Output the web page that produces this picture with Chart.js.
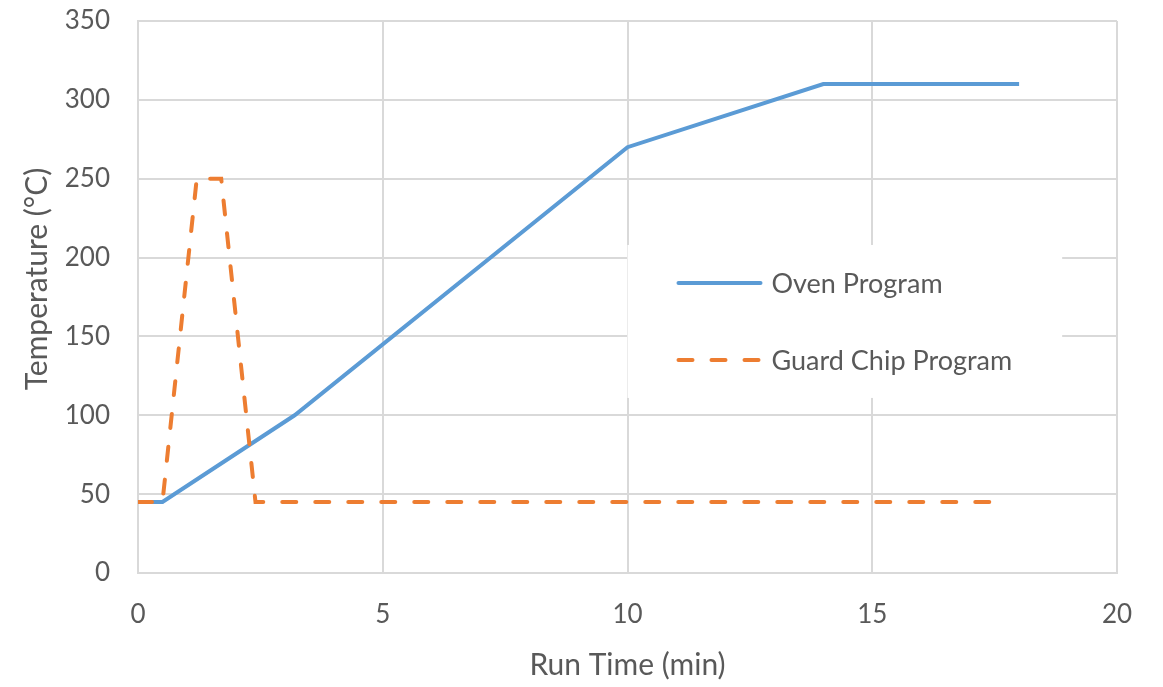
<!DOCTYPE html>
<html>
<head>
<meta charset="utf-8">
<script src="https://cdn.jsdelivr.net/npm/chart.js@4/dist/chart.umd.min.js"></script>
<style>
  html, body { margin: 0; padding: 0; background: #fff; }
  #wrap { width: 1163px; height: 687px; }
</style>
</head>
<body>
<div id="wrap"><canvas id="grafico" width="1163" height="687"></canvas></div>
<script>
// temperature programs (time in min, temperature in °C)
const ovenTime = [0, 0.5, 3.2, 10, 14, 18];
const ovenTemp = [45, 45, 100, 270, 310, 310];

const guardTime = [0, 0.5, 1.2, 1.7, 2.4, 17.5];
const guardTemp = [45, 45, 250, 250, 45, 45];

const xTicks = [0, 5, 10, 15, 20];
const yTicks = [0, 50, 100, 150, 200, 250, 300, 350];

const seriesNames = ['Oven Program', 'Guard Chip Program'];
const tituloY = 'Temperature (°C)';
const tituloX = 'Run Time (min)';

const corOven = '#5B9BD5';
const corGuard = '#ED7D31';
const corTexto = '#595959';
const corGrade = '#D9D9D9';
const fonte = 'Lato, "Open Sans", sans-serif';

function pares(xs, ys) {
    return xs.map((x, i) => ({ x: x, y: ys[i] }));
}

// legend box sitting inside the plot area
const legendaBox = {
    id: 'legendaBox',
    beforeDatasetsDraw(chart) {
        const ctx = chart.ctx;
        const xs = chart.scales.x;
        const ys = chart.scales.y;
        const left = xs.getPixelForValue(10.0);
        const right = xs.getPixelForValue(18.88);
        const top = ys.getPixelForValue(208);
        const bottom = ys.getPixelForValue(111);
        ctx.save();
        ctx.fillStyle = '#ffffff';
        ctx.fillRect(left, top, right - left, bottom - top);

        const linhas = [
            { y: 283, cor: corOven, dash: [] },
            { y: 360, cor: corGuard, dash: [14, 19] }
        ];
        ctx.font = '27px ' + fonte;
        ctx.textBaseline = 'middle';
        ctx.textAlign = 'left';
        linhas.forEach((l, i) => {
            ctx.beginPath();
            ctx.strokeStyle = l.cor;
            ctx.lineWidth = 4;
            ctx.lineCap = 'round';
            ctx.setLineDash(l.dash);
            ctx.moveTo(left + 51, l.y);
            ctx.lineTo(left + 133, l.y);
            ctx.stroke();
            ctx.setLineDash([]);
            ctx.fillStyle = corTexto;
            ctx.fillText(seriesNames[i], left + 144, l.y + 1);
        });
        ctx.restore();
    },
    // vertical axis title, placed a bit above the middle like the original sheet
    afterDraw(chart) {
        const ctx = chart.ctx;
        ctx.save();
        ctx.translate(37, 279);
        ctx.rotate(-Math.PI / 2);
        ctx.font = '30px ' + fonte;
        ctx.fillStyle = corTexto;
        ctx.textAlign = 'center';
        ctx.textBaseline = 'middle';
        ctx.fillText(tituloY, 0, 0);
        ctx.restore();
    }
};

function semPadding(s) {
    s.paddingTop = 0;
    s.paddingBottom = 0;
    s.paddingLeft = 0;
    s.paddingRight = 0;
}

const ctx = document.getElementById('grafico').getContext('2d');
new Chart(ctx, {
    type: 'line',
    data: {
        datasets: [{
            label: seriesNames[0],
            data: pares(ovenTime, ovenTemp),
            borderColor: corOven,
            borderWidth: 4,
            pointRadius: 0,
            fill: false,
            tension: 0,
            order: 1
        }, {
            label: seriesNames[1],
            data: pares(guardTime, guardTemp),
            borderColor: corGuard,
            borderWidth: 4,
            borderDash: [14, 19],
            borderCapStyle: 'round',
            pointRadius: 0,
            fill: false,
            tension: 0,
            order: 0
        }]
    },
    options: {
        responsive: false,
        animation: false,
        layout: { padding: { top: 21, right: 46, left: 0, bottom: 0 } },
        plugins: {
            legend: { display: false },
            tooltip: { enabled: false }
        },
        scales: {
            x: {
                type: 'linear',
                min: 0,
                max: 20,
                afterBuildTicks: (s) => { s.ticks = xTicks.map(v => ({ value: v })); },
                afterFit: (s) => { s.height = 114; semPadding(s); },
                grid: { color: corGrade, lineWidth: 2, drawTicks: false },
                border: { color: corGrade, width: 2 },
                ticks: { color: corTexto, font: { family: fonte, size: 26 }, padding: 26 },
                title: {
                    display: true,
                    text: tituloX,
                    color: corTexto,
                    font: { family: fonte, size: 30 },
                    padding: { top: 0, bottom: 4 }
                }
            },
            y: {
                min: 0,
                max: 350,
                afterBuildTicks: (s) => { s.ticks = yTicks.map(v => ({ value: v })); },
                afterFit: (s) => { s.width = 138; semPadding(s); },
                grid: { color: corGrade, lineWidth: 2, drawTicks: false },
                border: { color: corGrade, width: 2 },
                ticks: { color: corTexto, font: { family: fonte, size: 26 }, padding: 28 }
            }
        }
    },
    plugins: [legendaBox]
});
</script>
</body>
</html>
